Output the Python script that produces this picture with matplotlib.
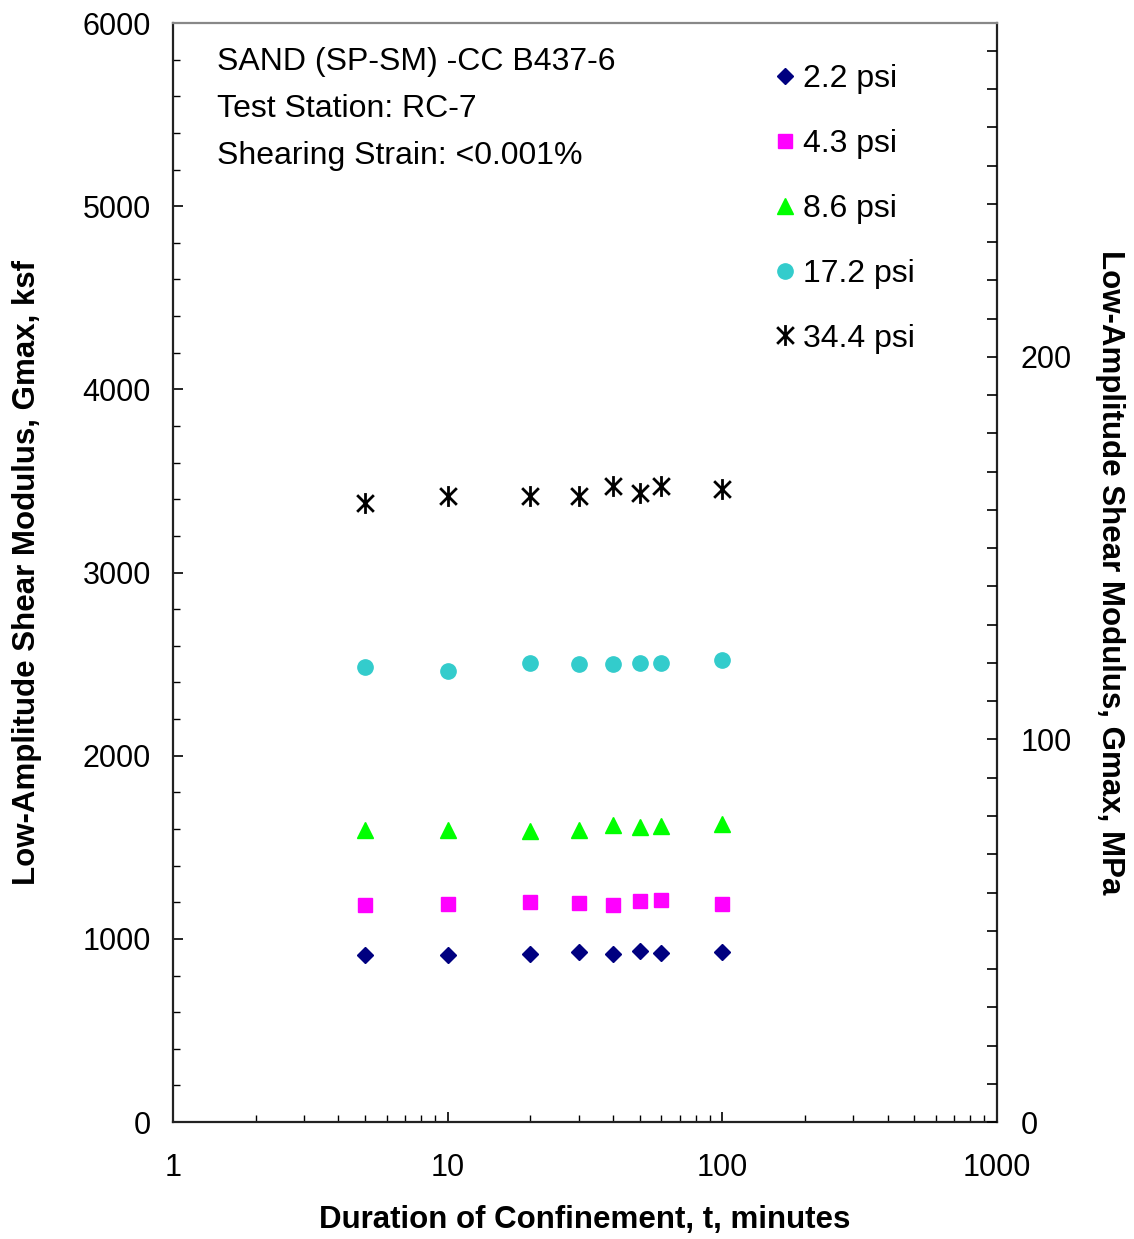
import matplotlib
matplotlib.use("Agg")
import matplotlib.pyplot as plt
from matplotlib.path import Path
from matplotlib.ticker import MultipleLocator, LogLocator, NullFormatter, FixedLocator

plt.rcParams['font.family'] = ['Liberation Sans', 'DejaVu Sans']

# durations (minutes) and Gmax (ksf) per confining pressure
t_min = [5, 10, 20, 30, 40, 50, 60, 100]
g_22 = [912, 912, 917, 928, 917, 933, 922, 928]
g_43 = [1185, 1190, 1201, 1195, 1185, 1206, 1212, 1190]
g_86 = [1595, 1595, 1590, 1595, 1622, 1612, 1617, 1627]
g_172 = [2484, 2462, 2505, 2500, 2500, 2505, 2505, 2522]
g_344 = [3379, 3417, 3417, 3417, 3472, 3433, 3472, 3455]
labels = ["2.2 psi", "4.3 psi", "8.6 psi", "17.2 psi", "34.4 psi"]

KSF_TO_MPA = 0.04788

# excel-like asterisk: x plus vertical bar
star = Path([(-1, -1), (1, 1), (-1, 1), (1, -1), (0, -1.25), (0, 1.25)],
            [Path.MOVETO, Path.LINETO, Path.MOVETO, Path.LINETO, Path.MOVETO, Path.LINETO])

fig = plt.figure(figsize=(11.34, 12.39), dpi=100)
ax = fig.add_axes([0.1526, 0.0944, 0.7266, 0.887])

series = [
    (g_22, dict(marker='D', color='#000080', ms=8.5, ls='none')),
    (g_43, dict(marker='s', color='#FF00FF', ms=10, ls='none')),
    (g_86, dict(marker='^', color='#00FF00', ms=11, ls='none')),
    (g_172, dict(marker='o', color='#33CCCC', ms=11, ls='none')),
    (g_344, dict(marker=star, color='black', mfc='none', mec='black', mew=2.0, ms=15, ls='none')),
]
for (vals, kw), lab in zip(series, labels):
    ax.plot(t_min, vals, label=lab, **kw)

ax.set_xscale('log')
ax.set_xlim(1, 1000)
ax.set_ylim(0, 6000)
ax.yaxis.set_major_locator(MultipleLocator(1000))
ax.yaxis.set_minor_locator(MultipleLocator(200))
ax.xaxis.set_major_locator(FixedLocator([1, 10, 100, 1000]))
ax.set_xticklabels(['1', '10', '100', '1000'])
ax.xaxis.set_minor_locator(LogLocator(base=10, subs=range(2, 10)))
ax.xaxis.set_minor_formatter(NullFormatter())

ax.tick_params(axis='both', which='major', direction='in', length=7, width=1.2, labelsize=22)
ax.tick_params(axis='both', which='minor', direction='in', length=5, width=1.0)
ax.tick_params(axis='x', which='major', pad=22)
ax.tick_params(axis='y', which='major', pad=16)
ax.tick_params(axis='y', which='both', right=False)
ax.tick_params(axis='x', which='both', top=False)

for s in ['left', 'bottom', 'right']:
    ax.spines[s].set_linewidth(1.6)
    ax.spines[s].set_color('#222222')
ax.spines['top'].set_color('#888888')
ax.spines['top'].set_linewidth(1.6)

ax.set_xlabel("Duration of Confinement, t, minutes", fontsize=22.5, fontweight='bold', labelpad=16)
ax.set_ylabel("Low-Amplitude Shear Modulus, Gmax, ksf", fontsize=22.5, fontweight='bold', labelpad=29)

ax2 = ax.twinx()
ax2.set_ylim(0, 6000 * KSF_TO_MPA)
ax2.yaxis.set_major_locator(MultipleLocator(100))
ax2.yaxis.set_minor_locator(MultipleLocator(10))
ax2.tick_params(axis='y', which='major', direction='in', length=7, width=1.2, labelsize=22, pad=17)
ax2.tick_params(axis='y', which='minor', direction='in', length=7, width=1.2)
ax2.set_ylabel("Low-Amplitude Shear Modulus, Gmax, MPa", fontsize=22.5, fontweight='bold',
               rotation=270, labelpad=38)
for s in ax2.spines.values():
    s.set_visible(False)

info = ["SAND (SP-SM) -CC B437-6", "Test Station: RC-7", "Shearing Strain: <0.001%"]
for i, line in enumerate(info):
    ax.text(0.053, 0.965 - i * 0.0432, line, transform=ax.transAxes, fontsize=23,
            ha='left', va='center')

ax.legend(loc='upper left', bbox_to_anchor=(0.716, 0.974), frameon=False, fontsize=23,
          handlelength=0.6, handletextpad=0.25, labelspacing=1.09, borderaxespad=0,
          numpoints=1)

fig.savefig("out.png", dpi=100)
plt.close(fig)
